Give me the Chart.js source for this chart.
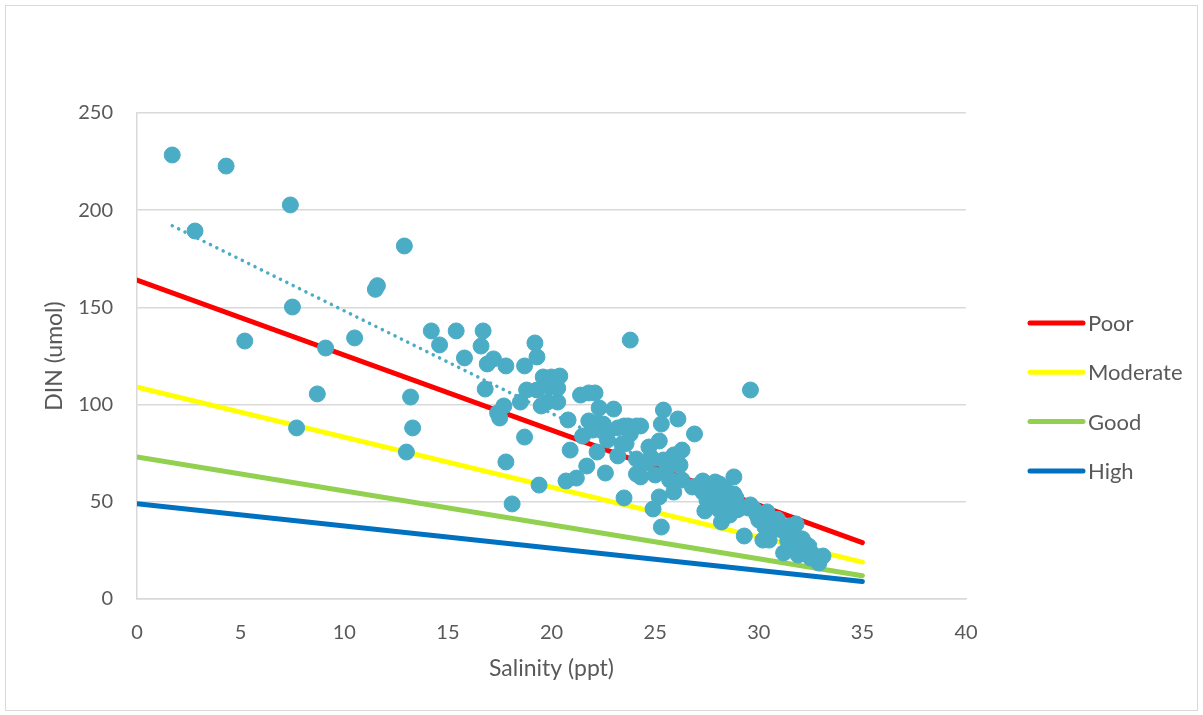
<!DOCTYPE html>
<html>
<head>
<meta charset="utf-8">
<title>DIN vs Salinity</title>
<script src="https://cdn.jsdelivr.net/npm/chart.js@4/dist/chart.umd.min.js"></script>
<style>
    html, body { margin: 0; padding: 0; background: #ffffff; }
    #wrap { position: relative; width: 1203px; height: 715px; }
</style>
</head>
<body>
<div id="wrap"><canvas id="din-chart" width="1203" height="715"></canvas></div>
<script>
// sample measurements
const salinity = [
    1.7, 4.3, 7.4, 2.8, 12.9, 11.5, 11.6, 7.5, 5.2, 10.5, 9.1, 8.7, 7.7, 13.2, 13.3, 13.0,
    14.2, 14.6, 15.4, 15.8, 16.6, 16.7, 17.2, 16.9, 16.8, 17.8, 18.7, 19.2, 19.3, 17.7, 17.4, 17.5,
    17.8, 18.1, 18.5, 18.8, 18.7, 19.4, 19.5, 19.6, 19.9, 20.0, 19.8, 20.3, 20.3, 20.4, 20.8, 20.9,
    20.7, 21.2, 21.4, 21.8, 22.1, 21.5, 21.8, 22.0, 22.2, 21.7, 22.3, 22.5, 22.7, 22.2, 22.6, 23.0,
    23.2, 23.4, 23.5, 23.8, 23.8, 23.7, 24.1, 23.2, 23.5, 24.3, 24.1, 24.1, 24.7, 24.8, 25.0, 24.9,
    25.2, 25.2, 25.3, 25.4, 25.3, 25.4, 25.6, 25.7, 25.9, 25.9, 26.1, 26.3, 26.2, 26.3, 26.9, 27.0,
    27.3, 27.3, 27.4, 27.5, 27.6, 27.8, 27.9, 28.0, 28.1, 28.1, 28.3, 28.4, 28.4, 28.5, 28.8, 28.8,
    28.2, 28.6, 28.9, 28.9, 29.3, 29.6, 29.5, 29.8, 30.0, 30.2, 30.4, 30.5, 30.7, 30.6, 31.1, 31.2,
    31.5, 31.7, 31.8, 31.7, 32.0, 32.1, 32.4, 32.6, 32.9, 33.1, 31.9, 32.5, 25.9, 26.1, 24.3, 26.8,
    29.6, 29.0, 30.1, 30.9, 31.4, 32.2, 29.9, 30.3, 19.3, 22.7, 23.6, 24.6
];
const din = [
    228.4, 222.7, 202.7, 189.3, 181.6, 159.3, 161.2, 150.2, 132.7, 134.3, 129.1, 105.5, 88.0, 103.9, 88.0, 75.6,
    137.9, 130.7, 137.9, 124.0, 130.1, 137.9, 123.5, 120.9, 108.0, 119.9, 119.9, 131.7, 124.5, 99.3, 95.7, 93.1,
    70.5, 48.9, 101.3, 107.5, 83.3, 58.6, 99.3, 114.2, 109.1, 114.2, 101.3, 101.3, 108.5, 114.7, 92.1, 76.6,
    60.7, 62.2, 104.9, 106.0, 106.0, 83.8, 91.6, 86.9, 90.5, 68.4, 98.3, 90.0, 81.8, 75.6, 64.8, 97.7,
    88.0, 79.7, 89.0, 84.9, 133.2, 89.0, 89.0, 73.6, 52.0, 89.0, 72.0, 64.3, 78.2, 73.0, 63.8, 46.3,
    81.3, 52.5, 37.0, 97.2, 90.0, 71.5, 67.4, 61.2, 55.0, 74.1, 92.6, 76.6, 68.9, 61.2, 84.9, 58.1,
    60.7, 55.0, 45.3, 50.9, 57.1, 54.0, 60.2, 50.9, 59.2, 45.8, 53.0, 47.3, 56.1, 49.9, 54.0, 62.8,
    39.6, 43.2, 52.0, 48.4, 32.4, 107.5, 46.8, 45.8, 40.6, 30.3, 44.8, 30.3, 38.6, 35.0, 35.5, 23.7,
    37.6, 33.4, 38.6, 27.8, 26.2, 30.9, 27.3, 23.1, 18.5, 22.1, 22.6, 21.1, 73.0, 70.0, 62.8, 57.6,
    48.4, 46.0, 42.0, 41.0, 30.0, 29.0, 43.5, 37.0, 107.5, 86.0, 80.0, 70.0
];

// threshold lines, salinity 0 -> 35
const limitX = [0, 35];
const poorY = [164, 29];
const moderateY = [109, 19];
const goodY = [73, 12];
const highY = [49, 9];

// linear trend over the samples
const trendX = [1.7, 33.0];
const trendY = [192, 27];

const xTicks = { min: 0, max: 40, step: 5 };
const yTicks = { min: 0, max: 250, step: 50 };

const textColor = '#595959';
const gridColor = '#D9D9D9';
const fontFamily = 'Lato, "Open Sans", sans-serif';

function toPoints(xs, ys) {
    return xs.map((x, i) => ({ x: x, y: ys[i] }));
}

function limitLine(label, ys, color) {
    return {
        type: 'line',
        label: label,
        data: toPoints(limitX, ys),
        borderColor: color,
        backgroundColor: color,
        borderWidth: 5,
        borderCapStyle: 'round',
        pointRadius: 0,
        fill: false,
        showInLegend: true
    };
}

// legend drawn beside the plot, only for the threshold lines
const sideLegend = {
    id: 'sideLegend',
    afterDraw(chart) {
        const ctx = chart.ctx;
        const area = chart.chartArea;
        const items = chart.data.datasets.filter(ds => ds.showInLegend);
        const x0 = area.right + 64;
        const y0 = area.top + 210;
        ctx.save();
        ctx.font = '22px ' + fontFamily;
        ctx.textBaseline = 'middle';
        items.forEach((ds, i) => {
            const y = y0 + i * 49.3;
            ctx.strokeStyle = ds.borderColor;
            ctx.lineWidth = 5;
            ctx.lineCap = 'round';
            ctx.beginPath();
            ctx.moveTo(x0, y);
            ctx.lineTo(x0 + 53, y);
            ctx.stroke();
            ctx.fillStyle = textColor;
            ctx.fillText(ds.label, x0 + 58, y + 1);
        });
        ctx.restore();
    }
};

// light frame around the whole chart
const chartFrame = {
    id: 'chartFrame',
    beforeDraw(chart) {
        const ctx = chart.ctx;
        ctx.save();
        ctx.strokeStyle = gridColor;
        ctx.lineWidth = 1;
        ctx.strokeRect(5.5, 5.5, chart.width - 11, chart.height - 10);
        ctx.restore();
    }
};

function initChart() {
    const ctx = document.getElementById('din-chart').getContext('2d');
    window.dinChart = new Chart(ctx, {
        type: 'scatter',
        data: {
            datasets: [
                {
                    label: 'DIN',
                    data: toPoints(salinity, din),
                    backgroundColor: '#4BACC6',
                    borderColor: '#4BACC6',
                    borderWidth: 1,
                    pointRadius: 8,
                    pointHoverRadius: 8
                },
                {
                    type: 'line',
                    label: 'Trend',
                    data: toPoints(trendX, trendY),
                    borderColor: '#4BACC6',
                    borderWidth: 3.5,
                    borderDash: [0.1, 7],
                    borderCapStyle: 'round',
                    pointRadius: 0,
                    fill: false
                },
                limitLine('Poor', poorY, '#FF0000'),
                limitLine('Moderate', moderateY, '#FFFF00'),
                limitLine('Good', goodY, '#92D050'),
                limitLine('High', highY, '#0070C0')
            ]
        },
        options: {
            responsive: false,
            animation: false,
            layout: {
                padding: { top: 113, right: 237, bottom: 0, left: 0 }
            },
            plugins: {
                legend: { display: false },
                tooltip: { enabled: false }
            },
            scales: {
                x: {
                    type: 'linear',
                    min: xTicks.min,
                    max: xTicks.max,
                    afterFit: scale => { scale.height = 116; },
                    ticks: {
                        stepSize: xTicks.step,
                        color: textColor,
                        font: { family: fontFamily, size: 20 },
                        padding: 14
                    },
                    grid: { display: false },
                    border: { display: true, color: gridColor, width: 1.5 },
                    title: {
                        display: true,
                        text: 'Salinity (ppt)',
                        color: textColor,
                        font: { family: fontFamily, size: 23 },
                        padding: { top: 0, bottom: 33 }
                    }
                },
                y: {
                    type: 'linear',
                    min: yTicks.min,
                    max: yTicks.max,
                    afterFit: scale => { scale.width = 137; },
                    ticks: {
                        stepSize: yTicks.step,
                        color: textColor,
                        font: { family: fontFamily, size: 20 },
                        padding: 24
                    },
                    grid: { color: gridColor, lineWidth: 1.5, drawTicks: false },
                    border: { display: true, color: gridColor, width: 1.5 },
                    title: {
                        display: true,
                        text: 'DIN (umol)',
                        color: textColor,
                        font: { family: fontFamily, size: 23 },
                        padding: { top: 41, bottom: 0 }
                    }
                }
            }
        },
        plugins: [chartFrame, sideLegend]
    });
}

window.onload = initChart;
</script>
</body>
</html>
